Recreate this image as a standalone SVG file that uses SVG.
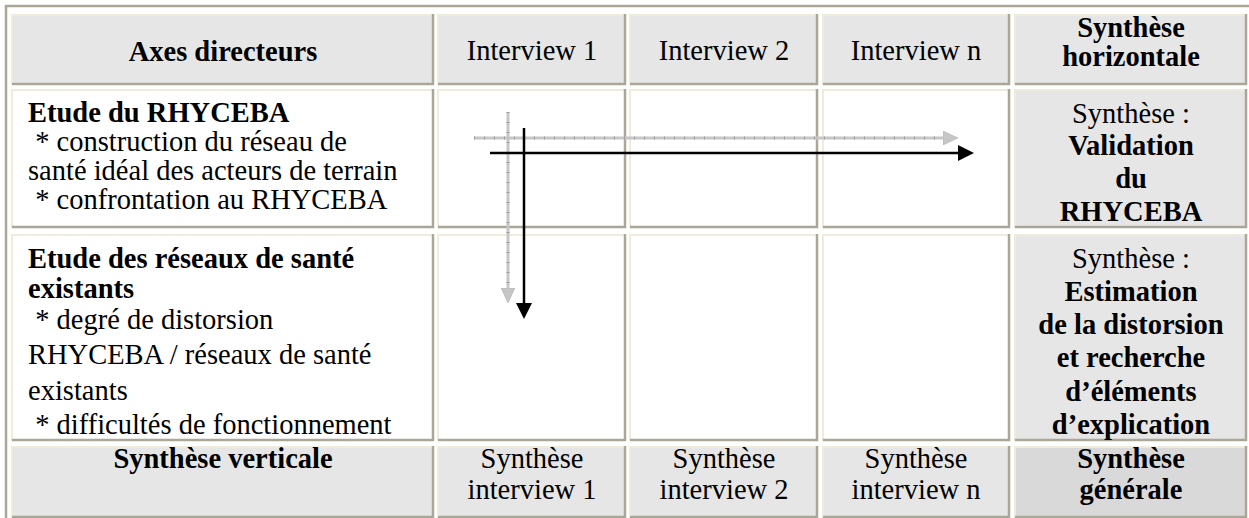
<svg xmlns="http://www.w3.org/2000/svg" width="1249" height="518" viewBox="0 0 1249 518">
<style>
  text { font-family: 'Liberation Serif', Tinos, 'Times New Roman', Times, 'DejaVu Serif', serif; font-size: 28.5px; fill: #000; }
  .b { font-weight: bold; }
  .m { text-anchor: middle; }
  .g { fill: #e6e6e6; }
  .w { fill: #ffffff; }
  .d { fill: #d9d9d9; }
  .lt { stroke: #efecdd; stroke-width: 2; fill: none; }
  .dk { stroke: #aaa796; stroke-width: 2.5; fill: none; }
</style>
<defs>
  <marker id="ah" viewBox="0 0 16 16" refX="0" refY="8" markerWidth="16" markerHeight="16" markerUnits="userSpaceOnUse" orient="auto">
    <path d="M0,0 L16,8 L0,16 Z" fill="#000"/>
  </marker>
  <marker id="ahg" viewBox="0 0 15 14" refX="0" refY="7" markerWidth="15" markerHeight="14" markerUnits="userSpaceOnUse" orient="auto">
    <path d="M0,0 L15,7 L0,14 Z" fill="#c6c6c6" stroke="#b0b0b0" stroke-width="0.6"/>
  </marker>
</defs>
<rect x="0" y="0" width="1249" height="518" fill="#ffffff"/>
<path d="M6,518 V6 H1249" stroke="#aaa796" stroke-width="2.5" fill="none"/>

<g font-family="Liberation Serif, serif">
<!-- header row -->
<g id="h1"><rect class="g" x="12" y="14" width="422" height="71"/><path class="lt" d="M12,85 V15 H434"/><path class="dk" d="M12,84 H433 V14"/>
<text class="b m" x="223" y="61">Axes directeurs</text></g>
<g id="h2"><rect class="g" x="438" y="14" width="188" height="71"/><path class="lt" d="M438,85 V15 H626"/><path class="dk" d="M438,84 H625 V14"/>
<text class="m" x="532" y="60">Interview 1</text></g>
<g id="h3"><rect class="g" x="630" y="14" width="188" height="71"/><path class="lt" d="M630,85 V15 H818"/><path class="dk" d="M630,84 H817 V14"/>
<text class="m" x="724" y="60">Interview 2</text></g>
<g id="h4"><rect class="g" x="823" y="14" width="187" height="71"/><path class="lt" d="M823,85 V15 H1010"/><path class="dk" d="M823,84 H1009 V14"/>
<text class="m" x="916" y="60">Interview n</text></g>
<g id="h5"><rect class="g" x="1015" y="14" width="232" height="71"/><path class="lt" d="M1015,85 V15 H1247"/><path class="dk" d="M1015,84 H1246 V14"/>
<text class="b m" x="1131" y="37">Synthèse</text><text class="b m" x="1131" y="66">horizontale</text></g>

<!-- row 2 -->
<g id="r1c1"><rect class="w" x="12" y="89" width="422" height="139"/><path class="lt" d="M12,228 V90 H434"/><path class="dk" d="M12,227 H433 V89"/>
<text class="b" x="28" y="122">Etude du RHYCEBA</text>
<text x="28" y="151" xml:space="preserve"> * construction du réseau de</text>
<text x="28" y="180">santé idéal des acteurs de terrain</text>
<text x="28" y="209" xml:space="preserve"> * confrontation au RHYCEBA</text></g>
<g id="r1c2"><rect class="w" x="438" y="89" width="188" height="139"/><path class="lt" d="M438,228 V90 H626"/><path class="dk" d="M438,227 H625 V89"/></g>
<g id="r1c3"><rect class="w" x="630" y="89" width="188" height="139"/><path class="lt" d="M630,228 V90 H818"/><path class="dk" d="M630,227 H817 V89"/></g>
<g id="r1c4"><rect class="w" x="823" y="89" width="187" height="139"/><path class="lt" d="M823,228 V90 H1010"/><path class="dk" d="M823,227 H1009 V89"/></g>
<g id="r1c5"><rect class="g" x="1015" y="89" width="232" height="139"/><path class="lt" d="M1015,228 V90 H1247"/><path class="dk" d="M1015,227 H1246 V89"/>
<text class="m" x="1131" y="123">Synthèse :</text>
<text class="b m" x="1131" y="155">Validation</text>
<text class="b m" x="1131" y="188">du</text>
<text class="b m" x="1131" y="221">RHYCEBA</text></g>

<!-- row 3 -->
<g id="r2c1"><rect class="w" x="12" y="234" width="422" height="207"/><path class="lt" d="M12,441 V235 H434"/><path class="dk" d="M12,440 H433 V234"/>
<text class="b" x="28" y="268">Etude des réseaux de santé</text>
<text class="b" x="28" y="298">existants</text>
<text x="28" y="329" xml:space="preserve"> * degré de distorsion</text>
<text x="28" y="364">RHYCEBA / réseaux de santé</text>
<text x="28" y="400">existants</text>
<text x="28" y="434" xml:space="preserve"> * difficultés de fonctionnement</text></g>
<g id="r2c2"><rect class="w" x="438" y="234" width="188" height="207"/><path class="lt" d="M438,441 V235 H626"/><path class="dk" d="M438,440 H625 V234"/></g>
<g id="r2c3"><rect class="w" x="630" y="234" width="188" height="207"/><path class="lt" d="M630,441 V235 H818"/><path class="dk" d="M630,440 H817 V234"/></g>
<g id="r2c4"><rect class="w" x="823" y="234" width="187" height="207"/><path class="lt" d="M823,441 V235 H1010"/><path class="dk" d="M823,440 H1009 V234"/></g>
<g id="r2c5"><rect class="g" x="1015" y="234" width="232" height="207"/><path class="lt" d="M1015,441 V235 H1247"/><path class="dk" d="M1015,440 H1246 V234"/>
<text class="m" x="1131" y="268">Synthèse :</text>
<text class="b m" x="1131" y="301">Estimation</text>
<text class="b m" x="1131" y="334">de la distorsion</text>
<text class="b m" x="1131" y="367">et recherche</text>
<text class="b m" x="1131" y="401">d’éléments</text>
<text class="b m" x="1131" y="434">d’explication</text></g>

<!-- row 4 -->
<g id="f1"><rect class="g" x="12" y="446" width="422" height="72"/><path class="lt" d="M12,518 V447 H434"/><path class="dk" d="M12,517 H433 V446"/>
<text class="b m" x="223" y="468">Synthèse verticale</text></g>
<g id="f2"><rect class="g" x="438" y="446" width="188" height="72"/><path class="lt" d="M438,518 V447 H626"/><path class="dk" d="M438,517 H625 V446"/>
<text class="m" x="532" y="468">Synthèse</text><text class="m" x="532" y="499">interview 1</text></g>
<g id="f3"><rect class="g" x="630" y="446" width="188" height="72"/><path class="lt" d="M630,518 V447 H818"/><path class="dk" d="M630,517 H817 V446"/>
<text class="m" x="724" y="468">Synthèse</text><text class="m" x="724" y="499">interview 2</text></g>
<g id="f4"><rect class="g" x="823" y="446" width="187" height="72"/><path class="lt" d="M823,518 V447 H1010"/><path class="dk" d="M823,517 H1009 V446"/>
<text class="m" x="916" y="468">Synthèse</text><text class="m" x="916" y="499">interview n</text></g>
<g id="f5"><rect class="d" x="1015" y="446" width="232" height="72"/><path class="lt" d="M1015,518 V447 H1247"/><path class="dk" d="M1015,517 H1246 V446"/>
<text class="b m" x="1131" y="468">Synthèse</text><text class="b m" x="1131" y="499">générale</text></g>
</g>

<!-- connectors -->
<g id="connectors">
  <line x1="474" y1="138" x2="943" y2="138" stroke="#c6c6c6" stroke-width="3" marker-end="url(#ahg)"/>
  <line x1="474" y1="138" x2="943" y2="138" stroke="#9c9c9c" stroke-width="3" stroke-dasharray="1 9"/>
  <line x1="508" y1="112" x2="508" y2="288" stroke="#c6c6c6" stroke-width="3" marker-end="url(#ahg)"/>
  <line x1="508" y1="112" x2="508" y2="288" stroke="#9c9c9c" stroke-width="3" stroke-dasharray="1 9"/>
  <line x1="490" y1="153" x2="958" y2="153" stroke="#000" stroke-width="2.5" marker-end="url(#ah)"/>
  <line x1="524" y1="128" x2="524" y2="303" stroke="#000" stroke-width="2.5" marker-end="url(#ah)"/>
</g>
</svg>
